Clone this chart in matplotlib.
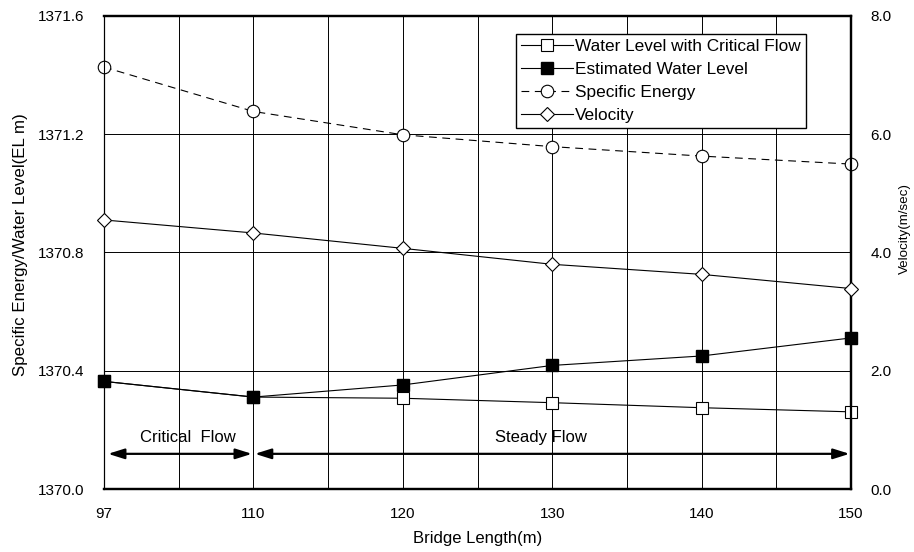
import numpy as np
import matplotlib
matplotlib.use('Agg')
import matplotlib.pyplot as plt
from matplotlib.ticker import MultipleLocator

plt.rcParams['font.family'] = ['Liberation Sans', 'DejaVu Sans']

# data
lengths = ['97', '110', '120', '130', '140', '150']
crit_level = [1370.364, 1370.311, 1370.307, 1370.292, 1370.275, 1370.261]
est_level = [1370.364, 1370.311, 1370.352, 1370.418, 1370.450, 1370.511]
spec_energy = [1371.427, 1371.277, 1371.198, 1371.158, 1371.126, 1371.099]
velocity = [4.55, 4.33, 4.07, 3.80, 3.63, 3.39]

fs_tick = 11
fs_lab = 12
x = np.arange(len(lengths))

fig = plt.figure(figsize=(9.14, 5.52), dpi=100)
ax = fig.add_axes([0.1138, 0.1141, 0.8173, 0.857])
ax2 = ax.twinx()

l1, = ax.plot(x, crit_level, color='k', lw=0.8, marker='s', ms=8.4,
              mfc='white', mec='k', mew=0.8, label='Water Level with Critical Flow',
              zorder=3, clip_on=False)
l2, = ax.plot(x, est_level, color='k', lw=0.8, marker='s', ms=8.6,
              mfc='k', mec='k', label='Estimated Water Level', zorder=4, clip_on=False)
l3, = ax.plot(x, spec_energy, color='k', lw=0.8, ls=(0, (7, 5)), marker='o', ms=9,
              mfc='white', mec='k', mew=0.8, label='Specific Energy', zorder=3,
              clip_on=False)
l4, = ax2.plot(x, velocity, color='k', lw=0.8, marker='D', ms=7,
               mfc='white', mec='k', mew=0.8, label='Velocity', zorder=3, clip_on=False)

ax.set_xlim(0, 5)
ax.set_ylim(1370.0, 1371.6)
ax2.set_ylim(0, 8)
ax.set_xticks(x)
ax.set_xticklabels(lengths)
ax.xaxis.set_minor_locator(MultipleLocator(0.5))
yt = np.arange(1370.0, 1371.61, 0.4)
ax.set_yticks(yt)
ax.set_yticklabels(['%.1f' % v for v in yt])
vt = np.arange(0, 8.1, 2)
ax2.set_yticks(vt)
ax2.set_yticklabels(['%.1f' % v for v in vt])

ax.grid(True, which='both', axis='x', color='k', lw=0.7)
ax.grid(True, which='major', axis='y', color='k', lw=0.7)
ax.tick_params(axis='both', which='both', length=0, labelsize=fs_tick, pad=14)
ax.tick_params(axis='x', pad=13)
ax2.tick_params(axis='y', length=0, labelsize=fs_tick, pad=14)
for a in (ax, ax2):
    for s in a.spines.values():
        s.set_linewidth(1.6)
    a.spines['left'].set_linewidth(0.8)

ax.set_xlabel('Bridge Length(m)', fontsize=fs_lab)
ax.xaxis.set_label_coords(0.5, -0.089)
ax.set_ylabel('Specific Energy/Water Level(EL m)', fontsize=12.2)
ax.yaxis.set_label_coords(-0.102, 0.516)
ax2.set_ylabel('Velocity(m/sec)', fontsize=9.6)
ax2.yaxis.set_label_coords(1.064, 0.55)

# flow regime arrows
arr_y = 1370.119
astyle = '<|-|>,head_length=0.7,head_width=0.22'
ax.annotate('', xy=(0.027, arr_y), xytext=(0.99, arr_y),
            arrowprops=dict(arrowstyle=astyle, color='k', lw=1.6,
                            mutation_scale=14, shrinkA=0, shrinkB=0), zorder=5)
ax.annotate('', xy=(1.01, arr_y), xytext=(4.99, arr_y),
            arrowprops=dict(arrowstyle=astyle, color='k', lw=1.6,
                            mutation_scale=14, shrinkA=0, shrinkB=0), zorder=5)
ax.text(0.562, 1370.173, 'Critical  Flow', fontsize=12, ha='center', va='center')
ax.text(2.925, 1370.173, 'Steady Flow', fontsize=12, ha='center', va='center')

leg = ax2.legend(handles=[l1, l2, l3, l4], loc='upper left',
                 bbox_to_anchor=(0.5515, 0.962), fontsize=12.4, frameon=True,
                 fancybox=False, edgecolor='k', framealpha=1, handlelength=3.0,
                 handletextpad=0.15, labelspacing=0.45, borderpad=0.3,
                 borderaxespad=0)
leg.get_frame().set_linewidth(1.0)

fig.savefig('out.png', dpi=100)
